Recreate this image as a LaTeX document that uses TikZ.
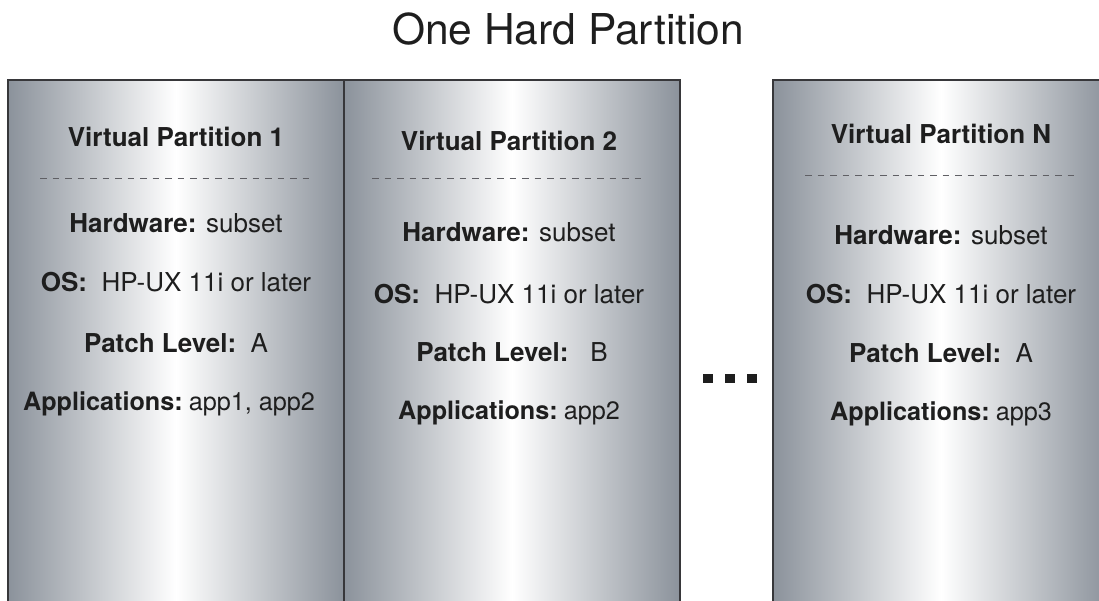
\documentclass[tikz,border=0pt]{standalone}
\usepackage{fontspec}
\setmainfont{TeX Gyre Heros}
\definecolor{edgegray}{RGB}{139,146,155}
\definecolor{bordergray}{RGB}{55,55,58}
\definecolor{txt}{RGB}{30,30,30}
\definecolor{dashgray}{RGB}{95,95,100}
\begin{document}
\begin{tikzpicture}[x=1pt,y=-1pt,
  panel/.style={draw=bordergray, line width=1.2pt, left color=edgegray, right color=edgegray, middle color=white,
    minimum width=336pt, minimum height=540pt, anchor=north west, inner sep=0pt, outer sep=0pt},
  ttl/.style={anchor=base, text=txt, inner sep=0pt, font=\fontsize{42.5}{50}\selectfont},
  head/.style={anchor=base, text=txt, inner sep=0pt, font=\fontsize{26}{30}\selectfont\bfseries},
  line/.style={anchor=base, text=txt, inner sep=0pt, font=\fontsize{26}{30}\selectfont},
  appline/.style={anchor=base, text=txt, inner sep=0pt, font=\fontsize{25.2}{30}\selectfont},
  dashline/.style={draw=dashgray, line width=0.9pt, dash pattern=on 6.5pt off 6pt},
  dotsq/.style={fill=txt, draw=none, minimum width=10pt, minimum height=9pt, inner sep=0pt}]
\useasboundingbox (0,0) rectangle (1099,601);
\clip (0,0) rectangle (1099,601);
\fill[white] (0,0) rectangle (1099,601);

\node[ttl] (title) at (568,45) {One Hard Partition};

% panels
\node[panel] (p1) at (8,80) {};
\node[panel] (p2) at (344,80) {};
\node[panel] (pn) at (773,80) {};

% panel 1
\node[head] (h1) at (176,147) {Virtual Partition 1};
\coordinate (d1a) at (40,178);
\coordinate (d1b) at (309,178);
\draw[dashline] (d1a) -- (d1b);
\node[line] (hw1) at (176,233) {\textbf{Hardware:} subset};
\node[line] (os1) at (176,291) {\textbf{OS:}\ \ HP-UX 11i or later};
\node[line] (pl1) at (176,352) {\textbf{Patch Level:}\ \ A};
\node[appline] (ap1) at (169,410) {\textbf{Applications:}\hspace{6pt}app1, app2};

% panel 2
\node[head] (h2) at (509,151) {Virtual Partition 2};
\coordinate (d2a) at (372,178);
\coordinate (d2b) at (642,178);
\draw[dashline] (d2a) -- (d2b);
\node[line] (hw2) at (509,242) {\textbf{Hardware:} subset};
\node[line] (os2) at (509,303) {\textbf{OS:}\ \ HP-UX 11i or later};
\node[line] (pl2) at (512,361) {\textbf{Patch Level:}\hspace{22pt}B};
\node[appline] (ap2) at (509,419) {\textbf{Applications:}\hspace{6pt}app2};

% panel N
\node[head] (hn) at (941,144) {Virtual Partition N};
\coordinate (dna) at (805,175);
\coordinate (dnb) at (1074,175);
\draw[dashline] (dna) -- (dnb);
\node[line] (hwn) at (941,245) {\textbf{Hardware:} subset};
\node[line] (osn) at (941,304) {\textbf{OS:}\ \ HP-UX 11i or later};
\node[line] (pln) at (941,362) {\textbf{Patch Level:}\ \ A};
\node[appline] (apn) at (941,420) {\textbf{Applications:}\hspace{6pt}app3};

% ellipsis
\node[dotsq] (s1) at (708,378.5) {};
\node[dotsq] (s2) at (730,378.5) {};
\node[dotsq] (s3) at (752,378.5) {};
\end{tikzpicture}
\end{document}
